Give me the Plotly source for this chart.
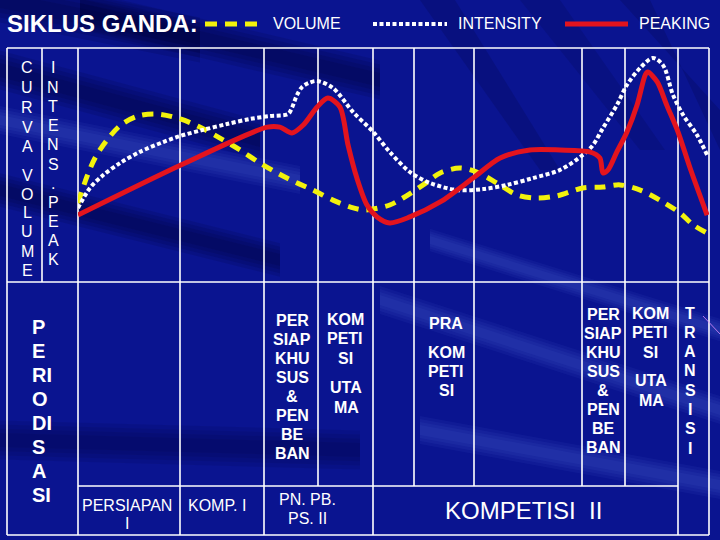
import plotly.graph_objects as go

W, H = 720, 540

# ---------------- data (x = % of training year, y = relative level 0-100) -------------
volume_x = [0.0, 1.4, 2.7, 4.6, 6.8, 9.5, 12.5, 16.2, 19.3, 22.5, 25.7, 28.8, 33.1, 37.2,
            40.4, 43.1, 45.5, 49.4, 51.5, 54.7, 57.4, 60.5, 63.2, 66.4, 69.6, 72.7, 75.9,
            80.0, 83.2, 85.9, 89.1, 92.2, 95.4, 97.5, 99.7]
volume_y = [33.8, 44.9, 53.0, 60.7, 67.1, 70.9, 71.8, 69.7, 66.2, 61.5, 56.4, 50.9, 44.4, 39.3,
            35.0, 32.1, 30.8, 32.9, 35.9, 41.5, 46.6, 48.7, 47.0, 42.3, 37.2, 35.9, 36.8,
            40.2, 40.6, 41.5, 39.3, 35.0, 29.5, 24.4, 20.9]

intensity_x = [0.0, 1.9, 4.0, 6.7, 9.8, 13.5, 16.2, 19.8, 23.6, 27.3, 30.4, 33.3, 33.9, 34.7,
               35.5, 36.5, 37.9, 40.4, 43.6, 46.8, 49.4, 52.6, 55.8, 60.1, 64.2, 68.0, 72.1,
               76.4, 80.0, 81.6, 83.2, 85.4, 87.0, 89.1, 91.1, 92.7, 94.3, 95.9, 98.1, 99.7]
intensity_y = [31.6, 40.2, 45.7, 50.9, 55.6, 59.8, 62.4, 65.0, 67.5, 69.7, 70.9, 71.8, 74.4, 79.9,
               83.3, 85.0, 85.9, 82.9, 72.6, 64.1, 55.6, 47.0, 42.3, 39.3, 39.7, 41.5, 44.4,
               47.9, 54.3, 58.5, 65.8, 75.6, 84.2, 91.5, 95.7, 92.7, 79.9, 71.4, 62.8, 54.3]

peaking_x = [0.0, 16.3, 30.0, 32.0, 33.9, 35.7, 37.9, 39.6, 41.5, 42.8, 44.2, 45.8, 47.4, 49.4,
             52.6, 57.4, 62.6, 66.9, 71.6, 76.4, 81.1, 82.7, 83.2, 84.0, 85.4, 87.0, 88.6,
             89.9, 90.3, 91.8, 93.3, 95.1, 97.0, 99.7]
peaking_y = [28.6, 50.0, 66.2, 66.2, 63.7, 67.1, 74.8, 78.6, 74.8, 58.5, 44.4, 32.9, 27.8, 25.2,
             27.8, 34.2, 44.4, 53.0, 56.4, 56.4, 55.6, 53.0, 46.6, 47.9, 55.6, 64.1, 75.6,
             88.5, 89.7, 85.5, 75.6, 64.1, 48.7, 28.6]

title_text = "SIKLUS GANDA:"
legend_labels = ["VOLUME", "INTENSITY", "PEAKING"]

# ---------------- styling -------------
BG = "#0A1490"
YELLOW = "#F2F20C"
WHITE = "#FFFFFF"
RED = "#E3141E"
FONT = "Arial, Liberation Sans, sans-serif"


def px(x):
    return x / W


def py(y):
    return 1 - y / H


fig = go.Figure()

fig.add_trace(go.Scatter(x=volume_x, y=volume_y, mode="lines", name="VOLUME",
                         line=dict(color=YELLOW, width=5, dash="11px,8px", shape="spline", smoothing=0.9)))
fig.add_trace(go.Scatter(x=intensity_x, y=intensity_y, mode="lines", name="INTENSITY",
                         line=dict(color=WHITE, width=4, dash="4px,2.5px", shape="spline", smoothing=0.9)))
fig.add_trace(go.Scatter(x=peaking_x, y=peaking_y, mode="lines", name="PEAKING",
                         line=dict(color=RED, width=5, shape="spline", smoothing=0.8)))

shapes = []


# ---- background streaks (soft, layered) ----
def poly(pts, color):
    d = "M " + " L ".join(f"{px(a):.4f},{py(b):.4f}" for a, b in pts) + " Z"
    shapes.append(dict(type="path", path=d, xref="paper", yref="paper",
                       fillcolor=color, line=dict(width=0), layer="below"))


def soft_band(p0, p1, width, color, steps=4):
    # layered bands, widening with lower alpha to fake soft edges
    (x0, y0), (x1, y1) = p0, p1
    for k in range(steps):
        w = width * (1 + k * 0.6)
        poly([(x0, y0 - w / 2), (x1, y1 - w / 2), (x1, y1 + w / 2), (x0, y0 + w / 2)], color)


DARK = "rgba(0,0,50,0.13)"
LIGHT = "rgba(120,150,255,0.06)"
soft_band((0, 70), (260, 140), 14, DARK)
soft_band((0, 190), (280, 260), 12, DARK)
soft_band((80, 10), (380, 80), 14, DARK)
soft_band((0, 120), (300, 180), 10, LIGHT)
soft_band((0, 0), (200, 40), 16, DARK)
poly([(420, 0), (540, 170), (560, 170), (455, 0)], "rgba(0,0,50,0.18)")
poly([(520, 0), (640, 150), (665, 150), (560, 0)], "rgba(0,0,50,0.14)")
poly([(620, 0), (720, 110), (720, 150), (650, 0)], "rgba(0,0,50,0.18)")
soft_band((380, 300), (720, 410), 10, LIGHT)
soft_band((430, 240), (720, 330), 8, LIGHT)
soft_band((420, 430), (720, 485), 10, LIGHT)
soft_band((0, 440), (360, 450), 14, "rgba(0,0,50,0.10)")

# ---- table grid ----
LW = 1.6


def hline(x0, x1, y):
    shapes.append(dict(type="line", xref="paper", yref="paper", x0=px(x0), x1=px(x1),
                       y0=py(y), y1=py(y), line=dict(color=WHITE, width=LW), layer="below"))


def vline(x, y0, y1):
    shapes.append(dict(type="line", xref="paper", yref="paper", x0=px(x), x1=px(x),
                       y0=py(y0), y1=py(y1), line=dict(color=WHITE, width=LW), layer="below"))


hline(7, 709, 48)
hline(7, 709, 282)
hline(78, 678, 486)
hline(7, 709, 535)
vline(7, 48, 535)
vline(709, 48, 535)
vline(42, 48, 282)
for xx in (78, 180, 264, 373, 678):
    vline(xx, 48, 535)
for xx in (318, 414, 474, 582, 625):
    vline(xx, 48, 486)

# decorative pink ray
shapes.append(dict(type="line", xref="paper", yref="paper", x0=px(703), x1=px(720),
                   y0=py(316), y1=py(334), line=dict(color="rgba(220,140,255,0.8)", width=1)))

# ---- legend samples ----
shapes.append(dict(type="line", xref="paper", yref="paper", x0=px(205), x1=px(257),
                   y0=py(24), y1=py(24), line=dict(color=YELLOW, width=5, dash="12px,8px")))
shapes.append(dict(type="line", xref="paper", yref="paper", x0=px(373), x1=px(447),
                   y0=py(24), y1=py(24), line=dict(color=WHITE, width=4, dash="4px,2.5px")))
shapes.append(dict(type="line", xref="paper", yref="paper", x0=px(565), x1=px(628),
                   y0=py(24), y1=py(24), line=dict(color=RED, width=5)))

annotations = []


def txt(t, x, y, size=16, bold=False, anchor="center"):
    annotations.append(dict(text=t, x=px(x), y=py(y), xref="paper", yref="paper",
                            xanchor=anchor, yanchor="middle", showarrow=False,
                            font=dict(family=FONT, size=size, color=WHITE,
                                      weight="bold" if bold else "normal")))


def column(lines, cx, y0, step, size=16, bold=True, anchor="center"):
    for i, t in enumerate(lines):
        txt(t, cx, y0 + i * step, size=size, bold=bold, anchor=anchor)


# header
txt(title_text, 5, 24, size=24, bold=True, anchor="left")
txt(legend_labels[0], 271, 23, size=16, anchor="left")
txt(legend_labels[1], 456, 23, size=16, anchor="left")
txt(legend_labels[2], 637, 23, size=16, anchor="left")

# left vertical labels
column(list("CURVA"), 27, 68, 19.7, size=16, bold=False)
column(list("VOLUME"), 27, 175, 19.0, size=16, bold=False)
column(list("INTENS.PEAK"), 53, 68, 19.2, size=16, bold=False)
column(["P", "E", "RI", "O", "DI", "S", "A", "SI"], 30, 327, 24.0, size=20, anchor="left")

# middle cells
column(["PER", "SIAP", "KHU", "SUS", "&", "PEN", "BE", "BAN"], 292, 320, 19.0)
column(["KOM", "PETI", "SI"], 345, 319, 19.5)
column(["UTA", "MA"], 346, 387, 20.0)
column(["PRA"], 446, 323, 19.0)
column(["KOM", "PETI", "SI"], 446, 352, 19.0)
column(["PER", "SIAP", "KHU", "SUS", "&", "PEN", "BE", "BAN"], 603, 314, 19.1)
column(["KOM", "PETI", "SI"], 650, 313, 19.5)
column(["UTA", "MA"], 651, 380, 20.0)
column(list("TRANSISI"), 690, 313, 19.3)

# bottom row
column(["PERSIAPAN", "I"], 127, 505, 18.0, size=16, bold=False)
column(["KOMP. I"], 217, 505, 18.0, size=16, bold=False)
column(["PN. PB.", "PS. II"], 307, 499, 19.0, size=16, bold=False)
txt("KOMPETISI\u00a0\u00a0II", 523, 510, size=24)

fig.update_layout(
    width=W, height=H,
    margin=dict(l=0, r=0, t=0, b=0),
    paper_bgcolor=BG, plot_bgcolor="rgba(0,0,0,0)",
    showlegend=False,
    shapes=shapes,
    annotations=annotations,
    xaxis=dict(domain=[px(78), px(709)], range=[0, 100], visible=False, fixedrange=True),
    yaxis=dict(domain=[py(282), py(48)], range=[0, 100], visible=False, fixedrange=True),
)

fig.write_html("out.html", config={"displayModeBar": False})
